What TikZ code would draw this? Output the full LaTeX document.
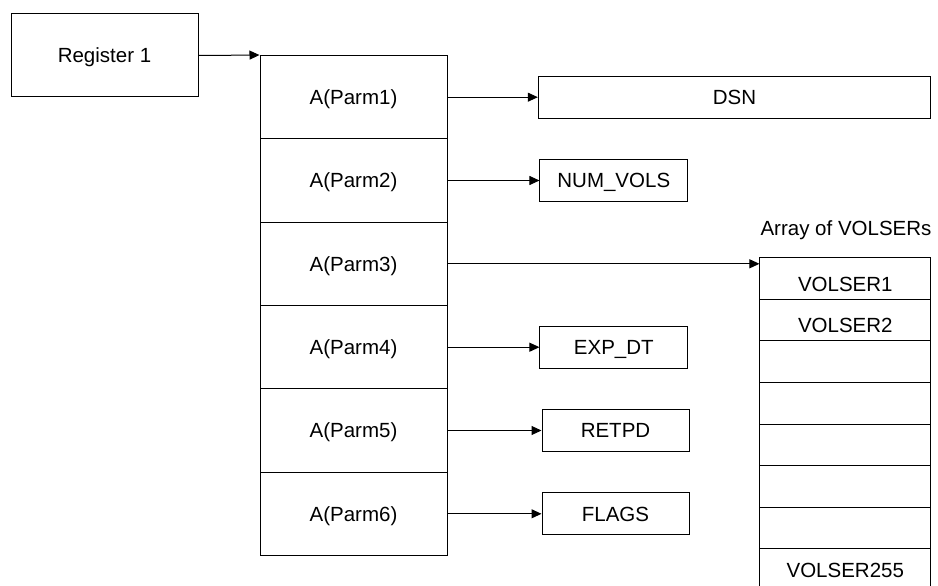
\documentclass[tikz,border=0pt]{standalone}
\usepackage{fontspec}
\setmainfont{Liberation Sans}
\usetikzlibrary{arrows.meta}
\begin{document}
\begin{tikzpicture}[x=1pt,y=-1pt,
  box/.style={draw=black,line width=1pt,inner sep=0pt,text height=14.7pt,text depth=0pt,font=\fontsize{20.5}{24}\selectfont},
  txt/.style={inner sep=0pt,text height=14.7pt,text depth=0pt,font=\fontsize{20.5}{24}\selectfont},
  arr/.style={draw=black,line width=1pt,-{Triangle[length=10pt,width=9pt]}}]
\useasboundingbox (0,0) rectangle (938,586);
\clip (0,0) rectangle (938,586);
% register
\node[box,minimum width=187pt,minimum height=83pt] (reg) at (104.5,55.5) {Register 1};
% parameter list
\foreach \i/\y in {1/97.2,2/180.5,3/263.8,4/347.2,5/430.5,6/513.8}{
  \node[box,minimum width=187pt,minimum height=83.33pt] (p\i) at (353.5,\y) {A(Parm\i)};
}
% targets
\node[box,minimum width=392.4pt,minimum height=42.3pt] (dsn) at (734.5,97.2) {DSN};
\node[box,minimum width=147.7pt,minimum height=42pt] (numvols) at (613.8,180.5) {NUM\_VOLS};
\node[box,minimum width=147.7pt,minimum height=42pt] (expdt) at (613.8,347.2) {EXP\_DT};
\node[box,minimum width=147pt,minimum height=42pt] (retpd) at (615.5,430.5) {RETPD};
\node[box,minimum width=147pt,minimum height=42pt] (flags) at (615.5,513.8) {FLAGS};
% VOLSER array
\node[txt] (arrlbl) at (846,228) {Array of VOLSERs};
\node[box,minimum width=170.7pt,minimum height=41.6pt] (v1) at (845.3,278.5) {\raisebox{-6pt}{VOLSER1}};
\node[box,minimum width=170.7pt,minimum height=41.6pt] (v2) at (845.3,320.1) {\raisebox{-5pt}{VOLSER2}};
\node[box,minimum width=170.7pt,minimum height=41.6pt] (v3) at (845.3,361.7) {};
\node[box,minimum width=170.7pt,minimum height=41.6pt] (v4) at (845.3,403.3) {};
\node[box,minimum width=170.7pt,minimum height=41.6pt] (v5) at (845.3,444.9) {};
\node[box,minimum width=170.7pt,minimum height=41.6pt] (v6) at (845.3,486.5) {};
\node[box,minimum width=170.7pt,minimum height=41.6pt] (v7) at (845.3,528.1) {};
\node[box,minimum width=170.7pt,minimum height=41.6pt] (v8) at (845.3,569.7) {VOLSER255};
% connectors
\draw[arr] (reg.east) -- (p1.north west);
\draw[arr] (p1.east) -- (dsn.west);
\draw[arr] (p2.east) -- (numvols.west);
\draw[arr] (p3.east) -- (p3.east -| v1.west);
\draw[arr] (p4.east) -- (expdt.west);
\draw[arr] (p5.east) -- (retpd.west);
\draw[arr] (p6.east) -- (flags.west);
\end{tikzpicture}
\end{document}
